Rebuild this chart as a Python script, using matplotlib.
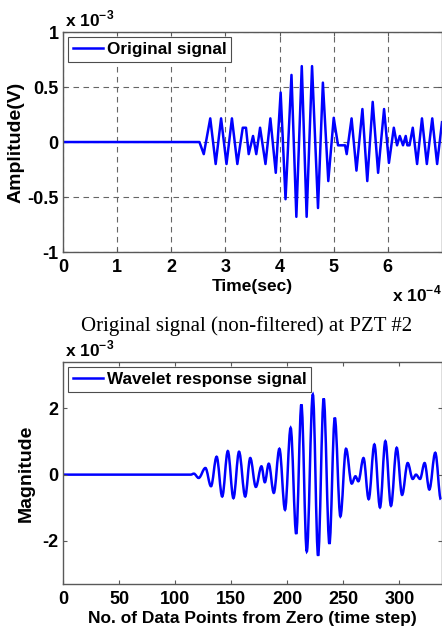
import matplotlib
matplotlib.use("Agg")
import matplotlib.pyplot as plt
from matplotlib.path import Path
from matplotlib.patches import PathPatch
from matplotlib.lines import Line2D

# top panel: original signal, time in 1e-4 s, amplitude in 1e-3 V (peaks)
time_e4 = [0, 2.52, 2.6, 2.72, 2.82, 2.92, 3.02, 3.12, 3.22, 3.32,
           3.38, 3.43, 3.51, 3.57, 3.64, 3.74, 3.83, 3.93, 4.02, 4.11,
           4.22, 4.31, 4.41, 4.5, 4.6, 4.71, 4.8, 4.9, 5.0, 5.08,
           5.21, 5.24, 5.33, 5.42, 5.53, 5.62, 5.72, 5.82, 5.93, 6.02,
           6.11, 6.17, 6.22, 6.28, 6.33, 6.36, 6.40, 6.46, 6.54, 6.63,
           6.72, 6.82, 6.91, 7.0]
amp_e3 = [0, 0, -0.11, 0.215, -0.2, 0.215, -0.2, 0.215, -0.2, 0.13,
          0.13, -0.11, 0.055, -0.11, 0.13, -0.2, 0.215, -0.28, 0.45, -0.52,
          0.61, -0.68, 0.69, -0.68, 0.69, -0.6, 0.54, -0.355, 0.22, -0.03,
          -0.03, -0.11, 0.215, -0.26, 0.3, -0.355, 0.365, -0.28, 0.3, -0.19,
          0.13, -0.03, 0.055, -0.03, 0.055, -0.03, -0.03, 0.13, -0.2, 0.215,
          -0.2, 0.215, -0.2, 0.18]

# bottom panel: wavelet response, sample index vs magnitude in 1e-3 (extrema)
sample_n = [0, 114, 116.7, 121, 127, 132, 137, 142, 147, 152,
            157, 162.5, 167, 172, 177, 180, 183.5, 188, 193, 198,
            203, 208, 212.6, 217.4, 222.8, 227.5, 232.5, 237.6, 242.4, 247.4,
            252.4, 257.5, 260.8, 263.4, 268, 272.6, 277.7, 282.7, 287.5, 292.5,
            297.6, 302.4, 307.4, 311.9, 314.8, 318.4, 322.5, 326.7, 332, 337]
mag_e3 = [0, 0, 0.03, -0.1, 0.2, -0.35, 0.54, -0.66, 0.71, -0.71,
          0.69, -0.66, 0.5, -0.37, 0.25, -0.23, 0.33, -0.55, 0.78, -1.06,
          1.41, -1.79, 2.12, -2.32, 2.42, -2.45, 2.3, -2.09, 1.72, -1.26,
          0.78, -0.27, -0.05, -0.2, 0.5, -0.74, 0.91, -0.99, 1.01, -0.94,
          0.81, -0.61, 0.35, -0.13, 0.0, -0.13, 0.35, -0.45, 0.66, -0.75]

top_xticks = [0, 1, 2, 3, 4, 5, 6]
top_yticks = [-1, -0.5, 0, 0.5, 1]
top_yticklabels = ["-1", "-0.5", "0", "0.5", "1"]
bot_xticks = [0, 50, 100, 150, 200, 250, 300]
bot_yticks = [-2, 0, 2]

plt.rcParams['font.family'] = ['Liberation Sans', 'DejaVu Sans']
plt.rcParams['font.weight'] = 'bold'
plt.rcParams['font.size'] = 12
plt.rcParams['axes.unicode_minus'] = False

BLUE = '#0000ff'
SPINE = '0.35'
TICK_FS = 13
LABEL_FS = 12.5
YLABEL_FS = 14
LEG_FS = 12.3


def style_axes(ax):
    for s in ax.spines.values():
        s.set_color(SPINE)
        s.set_linewidth(1.0)
    ax.tick_params(direction='in', top=True, right=True, length=3,
                   width=0.8, color=SPINE, labelsize=TICK_FS, pad=3)
    ax.tick_params(axis='x', pad=5)


def smooth_path(xs, ys, k=0.36):
    # bezier segments with flat tangents at each extremum
    verts = [(xs[0], ys[0])]
    codes = [Path.MOVETO]
    for i in range(len(xs) - 1):
        x0, y0, x1, y1 = xs[i], ys[i], xs[i + 1], ys[i + 1]
        dx = x1 - x0
        verts += [(x0 + k * dx, y0), (x1 - k * dx, y1), (x1, y1)]
        codes += [Path.CURVE4] * 3
    return Path(verts, codes)


def add_legend(ax, handles, labels):
    leg = ax.legend(handles, labels, loc='upper left', fancybox=False,
                    framealpha=1, edgecolor='0.3', handlelength=1.75,
                    handletextpad=0.2, borderpad=0.3, borderaxespad=0.3,
                    fontsize=LEG_FS)
    leg.get_frame().set_linewidth(0.8)
    return leg


fig = plt.figure(figsize=(4.42, 6.28), dpi=100)

# ---- top panel ----
ax1 = fig.add_axes([0.1425, 0.5987, 0.8575, 0.3503])
line1, = ax1.plot(time_e4, amp_e3, color=BLUE, lw=1.8)
ax1.set_xlim(0, 7)
ax1.set_ylim(-1, 1)
ax1.set_xticks(top_xticks)
ax1.set_yticks(top_yticks)
ax1.set_yticklabels(top_yticklabels)
ax1.grid(True, color='0.4', linestyle=(0, (5, 4)), linewidth=0.8)
style_axes(ax1)
ax1.set_xlabel('Time(sec)', fontsize=LABEL_FS, fontweight='bold', labelpad=2)
ax1.set_ylabel('Amplitude(V)', fontsize=YLABEL_FS, fontweight='bold', labelpad=2)
add_legend(ax1, [line1], ['Original signal'])
ax1.text(0.005, 1.01, r'x 10$^{\mathregular{-3}}$', transform=ax1.transAxes,
         ha='left', va='bottom', fontsize=LABEL_FS, fontweight='bold')
fig.text(0.999, 0.516, r'x 10$^{\mathregular{-4}}$', ha='right', va='bottom',
         fontsize=LABEL_FS, fontweight='bold')

# caption between panels
fig.text(0.557, 0.481, 'Original signal (non-filtered) at PZT #2',
         ha='center', va='center', fontsize=15, fontweight='normal',
         family=['Liberation Serif', 'DejaVu Serif'])

# ---- bottom panel ----
ax2 = fig.add_axes([0.1425, 0.0701, 0.8575, 0.3535])
ax2.add_patch(PathPatch(smooth_path(sample_n, mag_e3), fill=False,
                        edgecolor=BLUE, lw=1.8))
ax2.set_xlim(0, 338)
ax2.set_ylim(-3.3, 3.4)
ax2.set_xticks(bot_xticks)
ax2.set_yticks(bot_yticks)
style_axes(ax2)
ax2.set_xlabel('No. of Data Points from Zero (time step)', fontsize=LABEL_FS,
               fontweight='bold', labelpad=2)
ax2.set_ylabel('Magnitude', fontsize=YLABEL_FS, fontweight='bold', labelpad=6)
add_legend(ax2, [Line2D([], [], color=BLUE, lw=1.8)], ['Wavelet response signal'])
ax2.text(0.005, 1.01, r'x 10$^{\mathregular{-3}}$', transform=ax2.transAxes,
         ha='left', va='bottom', fontsize=LABEL_FS, fontweight='bold')

fig.savefig('out.png', dpi=100)
